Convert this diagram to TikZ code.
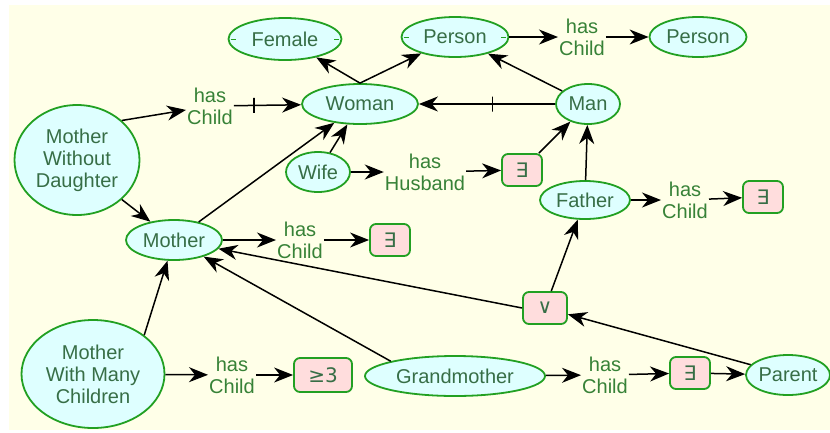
\documentclass[tikz,border=0pt]{standalone}
\usepackage{fontspec}
\setmainfont{Liberation Sans}
\newfontfamily\symfont{DejaVu Sans}
\usetikzlibrary{arrows.meta, shapes.geometric}

\definecolor{bgyellow}{RGB}{255,255,232}
\definecolor{clsfill}{RGB}{222,255,255}
\definecolor{clsline}{RGB}{34,160,34}
\definecolor{clstext}{RGB}{55,110,70}
\definecolor{reltext}{RGB}{55,130,55}
\definecolor{boxfill}{RGB}{255,221,221}

\begin{document}
\begin{tikzpicture}[x=1pt, y=-1pt,
  font=\fontsize{20}{22}\selectfont,
  cls/.style={ellipse, draw=clsline, line width=1.8pt, fill=clsfill, text=clstext,
    inner sep=0pt, align=center},
  rel/.style={text=reltext, align=center, inner sep=1pt},
  qbox/.style={rectangle, rounded corners=6pt, draw=clsline, line width=1.8pt,
    fill=boxfill, text=clstext, minimum width=40, minimum height=32, inner sep=0pt},
  arr/.style={-{Stealth[length=19pt, width=15pt, inset=6pt]}, line width=1.5pt, black},
  barmark/.style={draw=black, line width=1.6pt, inner sep=0pt, minimum width=0pt,
    minimum height=15pt},
  dashmark/.style={draw=clsline, line width=1pt}]

\useasboundingbox (0,0) rectangle (830,432);
\fill[bgyellow] (9,5) rectangle (830,430);

% classes
\node[cls, minimum width=113, minimum height=42] (female) at (285,39) {Female};
\node[cls, minimum width=107, minimum height=40] (person) at (455,37) {Person};
\node[cls, minimum width=97, minimum height=40] (person2) at (698,37) {Person};
\node[cls, minimum width=116, minimum height=40] (woman) at (360,104) {Woman};
\node[cls, minimum width=64, minimum height=40] (man) at (588,104) {Man};
\node[cls, minimum width=125, minimum height=110] (mwd) at (77,160) {Mother\\Without\\Daughter};
\node[cls, minimum width=64, minimum height=40] (wife) at (318,172) {Wife};
\node[cls, minimum width=90, minimum height=38] (father) at (585,200) {Father};
\node[cls, minimum width=96, minimum height=40] (mother) at (174,240) {Mother};
\node[cls, minimum width=143, minimum height=108] (mwmc) at (93,374) {Mother\\With Many\\Children};
\node[cls, minimum width=180, minimum height=40] (grandma) at (455,376) {Grandmother};
\node[cls, minimum width=84, minimum height=40] (parent) at (788,375) {Parent};

% small marks on the top classes
\draw[dashmark] ([xshift=3]female.west) -- ++(5,0);
\draw[dashmark] ([xshift=-3]female.east) -- ++(-5,0);
\draw[dashmark] ([xshift=3]person.west) -- ++(5,0);
\draw[dashmark] ([xshift=-3]person.east) -- ++(-5,0);

% properties
\node[rel] (hcperson) at (582,37) {has\\Child};
\node[rel] (hcmwd) at (210,106) {has\\Child};
\node[rel] (hhwife) at (425,172) {has\\Husband};
\node[rel] (hcfather) at (685,200) {has\\Child};
\node[rel] (hcmother) at (300,240) {has\\Child};
\node[rel] (hcmwmc) at (232,375) {has\\Child};
\node[rel] (hcgrandma) at (605,375) {has\\Child};

% restrictions
\node[qbox] (exwife) at (522,170) {\symfont ∃};
\node[qbox] (exfather) at (763,197) {\symfont ∃};
\node[qbox] (exmother) at (390,240) {\symfont ∃};
\node[qbox, minimum width=44] (orbox) at (545,308) {\symfont ∨};
\node[qbox, minimum width=58, minimum height=34] (geq) at (323,375) {\symfont ≥3};
\node[qbox] (exgrandma) at (690,373) {\symfont ∃};

% connectors
\draw[arr] (woman.north) -- (female);
\draw[arr] (woman.north) -- (person);
\draw[arr] (man) -- (person);
\draw[arr] (person) -- (hcperson);
\draw[arr] (hcperson) -- (person2);
\draw[arr] (man) -- node[barmark, pos=0.46] {} (woman);
\draw[arr] (mwd.north east) -- (hcmwd);
\draw[arr] (hcmwd) -- node[barmark, pos=0.3] {} (woman);
\draw[arr] (mwd.south east) -- (mother);
\draw[arr] (mother) -- (woman);
\draw[arr] (wife) -- (woman);
\draw[arr] (wife) -- (hhwife);
\draw[arr] (hhwife) -- (exwife);
\draw[arr] (exwife) -- (man);
\draw[arr] (father) -- (man);
\draw[arr] (father) -- (hcfather);
\draw[arr] (hcfather) -- (exfather);
\draw[arr] (mother) -- (hcmother);
\draw[arr] (hcmother) -- (exmother);
\draw[arr] (orbox.west) -- (mother);
\draw[arr] (orbox) -- (father);
\draw[arr] (parent) -- (orbox);
\draw[arr] (grandma.north west) -- (mother);
\draw[arr] (mwmc.north east) -- (mother);
\draw[arr] (mwmc) -- (hcmwmc);
\draw[arr] (hcmwmc) -- (geq);
\draw[arr] (grandma) -- (hcgrandma);
\draw[arr] (hcgrandma) -- (exgrandma);
\draw[arr] (exgrandma) -- (parent);
\end{tikzpicture}
\end{document}
